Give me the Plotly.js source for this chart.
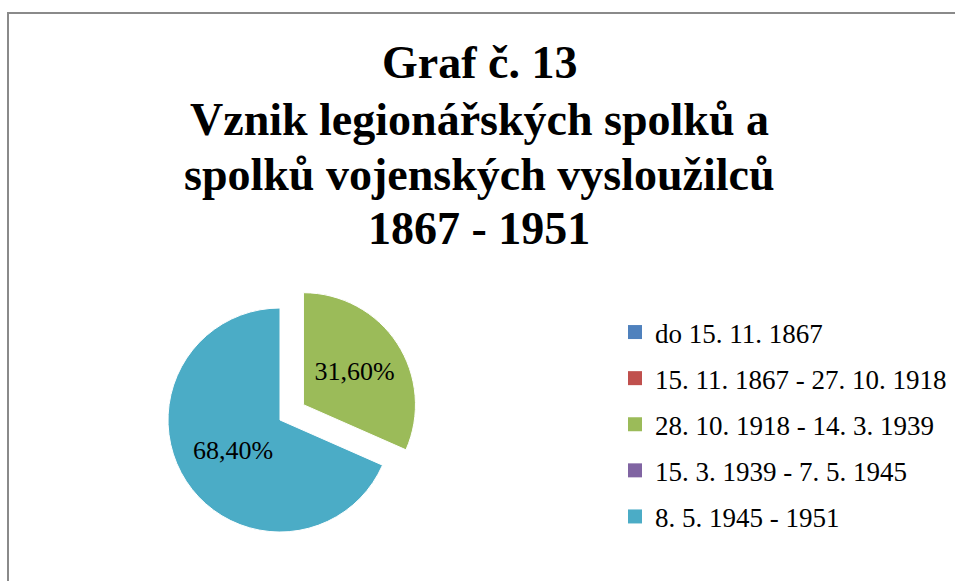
<!DOCTYPE html>
<html>
<head>
<meta charset="utf-8">
<script src="https://cdn.plot.ly/plotly-3.0.1.min.js"></script>
<style>
html,body{margin:0;padding:0;background:#fff;}
#wrap{position:relative;width:955px;height:581px;overflow:hidden;}
#frame{position:absolute;left:7px;top:12px;width:960px;height:600px;border-top:2px solid #8a8a8a;border-left:2px solid #8a8a8a;pointer-events:none;z-index:5;}
#chart{position:absolute;left:0;top:0;width:955px;height:581px;}
</style>
</head>
<body>
<div id="wrap"><div id="chart"></div><div id="frame"></div></div>
<script>
const categories = ["do 15. 11. 1867", "15. 11. 1867 - 27. 10. 1918", "28. 10. 1918 - 14. 3. 1939", "15. 3. 1939 - 7. 5. 1945", "8. 5. 1945 - 1951"];
const shares = [0, 0, 0.316, 0, 0.684];
const colors = ["#4F81BD", "#C0504D", "#9BBB59", "#8064A2", "#4BACC6"];
const pulls = [0, 0, 0.25, 0, 0];
const titleLines = ["Graf č. 13", "Vznik legionářských spolků a", "spolků vojenských vysloužilců", "1867 - 1951"];

const W = 955, H = 581;
const serif = "Liberation Serif, Times New Roman, serif";

const pie = {
  type: "pie",
  labels: categories,
  values: shares,
  marker: {colors: colors, line: {color: "#ffffff", width: 1}},
  sort: false,
  direction: "clockwise",
  rotation: 0,
  pull: pulls,
  texttemplate: "%{percent:.2%}",
  textposition: "inside",
  insidetextorientation: "horizontal",
  textfont: {family: serif, size: 26, color: "#000000"},
  hoverinfo: "label+percent",
  showlegend: false,
  domain: {x: [140/W, 420/W], y: [1 - 560/H, 1 - 280/H]}
};

const legendTraces = categories.map((c, i) => ({
  type: "scatter",
  x: [null], y: [null],
  mode: "markers",
  name: c,
  legendgroup: "g" + i,
  marker: {symbol: "square", size: 14, color: colors[i]},
  showlegend: true,
  hoverinfo: "skip"
}));

const titleY = [62, 119, 174, 228];
const annotations = titleLines.map((t, i) => ({
  text: "<b>" + t + "</b>",
  xref: "paper", yref: "paper",
  x: 479/W, y: 1 - titleY[i]/H,
  xanchor: "center", yanchor: "middle",
  showarrow: false,
  font: {family: serif, size: 46, color: "#000000"}
}));

const layout = {
  width: W, height: H,
  margin: {l: 0, r: 0, t: 0, b: 0},
  paper_bgcolor: "#ffffff",
  plot_bgcolor: "#ffffff",
  separators: ",.",
  font: {family: serif, color: "#000000"},
  annotations: annotations,
  xaxis: {visible: false, domain: [0.99, 1]},
  yaxis: {visible: false, domain: [0.99, 1]},
  legend: {
    x: 615/W, y: 1 - 308/H, xanchor: "left", yanchor: "top",
    font: {family: serif, size: 27, color: "#000000"},
    tracegroupgap: 8,
    itemwidth: 30,
    bgcolor: "rgba(0,0,0,0)"
  },
  showlegend: true
};

Plotly.newPlot("chart", [pie].concat(legendTraces), layout, {displayModeBar: false, staticPlot: true});
</script>
</body>
</html>
